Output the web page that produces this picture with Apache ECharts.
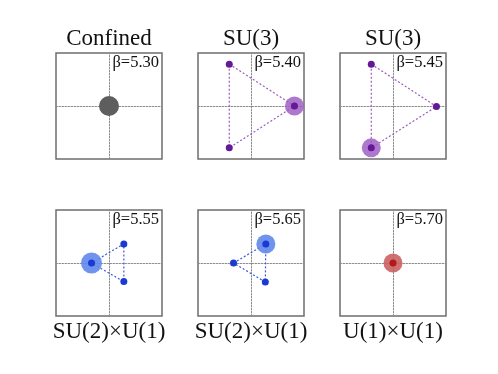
<!DOCTYPE html>
<html>
<head>
<meta charset="utf-8">
<script src="https://cdn.jsdelivr.net/npm/echarts@6/dist/echarts.min.js"></script>
<style>
  html, body { margin: 0; padding: 0; background: #fff; }
  #main { width: 498px; height: 374px; }
</style>
</head>
<body>
<div id="main"></div>
<script>
// one entry per panel, left to right, top to bottom
const phaseNames = ['Confined', 'SU(3)', 'SU(3)', 'SU(2)\u00d7U(1)', 'SU(2)\u00d7U(1)', 'U(1)\u00d7U(1)']
const betaLabels = ['\u03b2=5.30', '\u03b2=5.40', '\u03b2=5.45', '\u03b2=5.55', '\u03b2=5.65', '\u03b2=5.70']

// eigenvalue positions (x, y) in each panel
const pointsConfined = [[0, 0]]
const pointsSU3a = [[-0.41, 0.79], [0.82, 0], [-0.41, -0.79]]
const pointsSU3b = [[-0.41, 0.79], [0.82, -0.01], [-0.41, -0.79]]
const pointsSU2a = [[-0.33, 0], [0.28, 0.36], [0.28, -0.35]]
const pointsSU2b = [[-0.33, 0], [0.28, 0.36], [0.27, -0.36]]
const pointsU1 = [[0, 0]]
const panelPoints = [pointsConfined, pointsSU3a, pointsSU3b, pointsSU2a, pointsSU2b, pointsU1]

// which point carries the big halo
const haloIndex = [0, 1, 2, 0, 1, 0]

const dotColors = ['#5e5e5e', '#621a96', '#621a96', '#1a3ad2', '#1a3ad2', '#b01a1a']
const haloColors = ['#5e5e5e', 'rgba(160,96,196,0.85)', 'rgba(160,96,196,0.85)', 'rgba(96,136,236,0.9)', 'rgba(96,136,236,0.9)', 'rgba(204,96,96,0.9)']
const lineColors = ['#666', '#9a5cc0', '#9a5cc0', '#3a5ad8', '#3a5ad8', '#b01a1a']

const colLeft = [56, 198, 340]
const rowTop = [53, 210]
const boxSize = 106

const chart = echarts.init(document.getElementById('main'))

const grid = [], xAxis = [], yAxis = [], series = [], graphic = []

panelPoints.forEach((pts, i) => {
  const col = i % 3, row = Math.floor(i / 3)
  const left = colLeft[col], top = rowTop[row]
  grid.push({
    left: left, top: top, width: boxSize, height: boxSize,
    show: true, borderColor: '#6e6e6e', borderWidth: 1.5, backgroundColor: '#fff'
  })
  const axisCommon = {
    gridIndex: i, min: -1, max: 1, type: 'value',
    axisLine: {show: true, onZero: true, lineStyle: {color: '#8a8a8a', width: 1, type: [1.5, 1.5]}},
    axisTick: {show: false}, axisLabel: {show: false}, splitLine: {show: false}
  }
  xAxis.push(Object.assign({}, axisCommon))
  yAxis.push(Object.assign({}, axisCommon))

  if (pts.length > 1) {
    series.push({
      type: 'line', xAxisIndex: i, yAxisIndex: i,
      data: pts.concat([pts[0]]),
      symbol: 'none', silent: true, z: 3,
      lineStyle: {color: lineColors[i], width: 1.2, type: [2, 2]}
    })
  }
  // halo
  series.push({
    type: 'scatter', xAxisIndex: i, yAxisIndex: i,
    data: [pts[haloIndex[i]]],
    symbolSize: i === 0 ? 20 : (i === 3 ? 21 : 19), z: 4,
    itemStyle: {color: haloColors[i], opacity: 1}
  })
  if (i !== 0) {
    series.push({
      type: 'scatter', xAxisIndex: i, yAxisIndex: i,
      data: pts, symbolSize: 7, z: 5,
      itemStyle: {color: dotColors[i], opacity: 1}
    })
  }

  graphic.push({
    type: 'text', z: 100,
    style: {
      text: betaLabels[i], x: left + boxSize - 3, y: top + 9.5,
      font: '16.5px "Liberation Serif", serif', fill: '#111',
      textAlign: 'right', textVerticalAlign: 'middle'
    }
  })
  graphic.push({
    type: 'text', z: 100,
    style: {
      text: phaseNames[i], x: left + boxSize / 2,
      y: row === 0 ? 39 : 332,
      font: '23px "Liberation Serif", serif', fill: '#111',
      textAlign: 'center', textVerticalAlign: 'middle'
    }
  })
})

chart.setOption({
  animation: false,
  grid: grid,
  xAxis: xAxis,
  yAxis: yAxis,
  series: series,
  graphic: graphic
})
</script>
</body>
</html>
